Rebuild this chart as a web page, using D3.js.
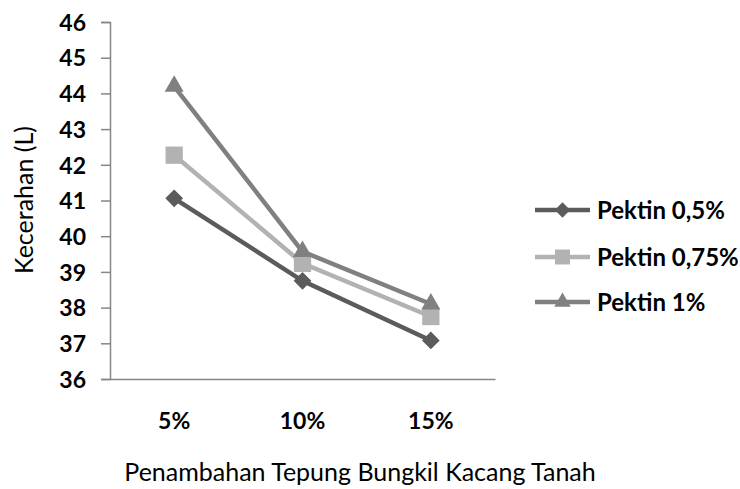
<!DOCTYPE html>
<html>
<head>
<meta charset="utf-8">
<script src="https://cdn.jsdelivr.net/npm/d3@7"></script>
<style>
  html, body { margin: 0; padding: 0; background: #fff; }
  svg { display: block; }
  text { font-family: Lato, "Open Sans", sans-serif; fill: #000; }
</style>
</head>
<body>
<div id="chart"></div>
<script>
// Brightness (L) of the product by peanut-cake flour addition, per pectin level
const categories = ["5%", "10%", "15%"];
const seriesNames = ["Pektin 0,5%", "Pektin 0,75%", "Pektin 1%"];
const pektin05 = [41.06, 38.75, 37.08];
const pektin075 = [42.27, 39.24, 37.75];
const pektin1 = [44.2, 39.57, 38.1];
const yTicks = [36, 37, 38, 39, 40, 41, 42, 43, 44, 45, 46];

const series = [
  { name: seriesNames[0], values: pektin05, color: "#5b5b5b", symbol: "diamond" },
  { name: seriesNames[1], values: pektin075, color: "#b2b2b2", symbol: "square" },
  { name: seriesNames[2], values: pektin1, color: "#808080", symbol: "triangle" }
];

const W = 740, H = 489;
const plot = { left: 110, right: 495, top: 22, bottom: 379 };

const svg = d3.select("#chart").append("svg").attr("width", W).attr("height", H);

const x = d3.scaleBand().domain(categories).range([plot.left, plot.right]);
const y = d3.scaleLinear().domain([36, 46]).range([plot.bottom, plot.top]);

// Y axis with ticks on the outside
const yAxis = svg.append("g")
  .attr("transform", `translate(${plot.left},0)`)
  .call(d3.axisLeft(y).tickValues(yTicks).tickSize(9).tickPadding(15).tickFormat(d3.format("d")));
yAxis.select(".domain").attr("stroke", "#868686").attr("stroke-width", 1.5);
yAxis.selectAll(".tick line").attr("stroke", "#868686").attr("stroke-width", 1.5);
yAxis.selectAll(".tick text")
  .style("font-size", "23px").style("font-weight", "bold")
  .attr("dy", "0.36em").attr("fill", "#000");

// X axis: baseline only, labels centered in each category band
const xAxis = svg.append("g")
  .attr("transform", `translate(0,${plot.bottom})`)
  .call(d3.axisBottom(x).tickSize(0).tickPadding(34));
xAxis.select(".domain").attr("stroke", "#868686").attr("stroke-width", 1.5);
xAxis.selectAll(".tick text")
  .style("font-size", "23px").style("font-weight", "bold").attr("fill", "#000");

// Axis titles
svg.append("text")
  .attr("x", 360).attr("y", 481)
  .attr("text-anchor", "middle")
  .style("font-size", "25px")
  .text("Penambahan Tepung Bungkil Kacang Tanah");

svg.append("text")
  .attr("transform", "translate(33,200) rotate(-90)")
  .attr("text-anchor", "middle")
  .style("font-size", "25px")
  .text("Kecerahan (L)");

const symbolType = { diamond: d3.symbolDiamond2, square: d3.symbolSquare2, triangle: d3.symbolTriangle2 };
const symbolSize = { diamond: 200, square: 380, triangle: 260 };

function markerPath(s) {
  return d3.symbol().type(symbolType[s.symbol]).size(symbolSize[s.symbol])();
}

const line = d3.line()
  .x((d, i) => x(categories[i]) + x.bandwidth() / 2)
  .y(d => y(d));

const g = svg.append("g");
series.forEach(s => {
  g.append("path")
    .attr("d", line(s.values))
    .attr("fill", "none")
    .attr("stroke", s.color)
    .attr("stroke-width", 4.5);
  g.selectAll(null)
    .data(s.values)
    .join("path")
    .attr("d", markerPath(s))
    .attr("transform", (d, i) => `translate(${x(categories[i]) + x.bandwidth() / 2},${y(d)})`)
    .attr("fill", s.color);
});

// Legend
const legend = svg.append("g");
const legendY = [210, 257, 302];
series.forEach((s, i) => {
  const row = legend.append("g").attr("transform", `translate(535,${legendY[i]})`);
  row.append("line").attr("x1", 0).attr("x2", 55).attr("stroke", s.color).attr("stroke-width", 4.5);
  row.append("path")
    .attr("d", d3.symbol().type(symbolType[s.symbol]).size(symbolSize[s.symbol] * 0.75)())
    .attr("transform", "translate(27.5,0)")
    .attr("fill", s.color);
  row.append("text")
    .attr("x", 62).attr("dy", "0.36em")
    .style("font-size", "24px").style("font-weight", "bold")
    .text(s.name);
});
</script>
</body>
</html>
